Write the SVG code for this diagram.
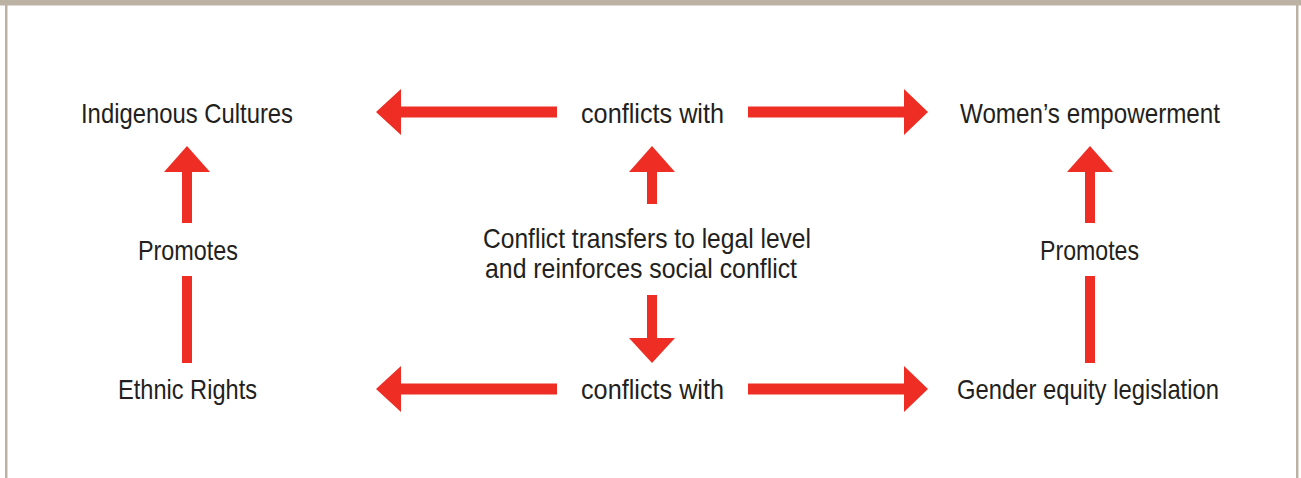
<svg xmlns="http://www.w3.org/2000/svg" width="1301" height="478" viewBox="0 0 1301 478">
<style>
.lbl{font-family:"Liberation Sans",Arial,sans-serif;font-size:28px;fill:#231F20;}
.arr{fill:#EE2E24;}
.frame{fill:#BCB2A4;}
</style>
<rect x="0" y="0" width="1301" height="478" fill="#FFFFFF"/>
<g id="frame">
<rect class="frame" x="0" y="0" width="1301" height="5.5"/>
<rect class="frame" x="5" y="0" width="2.5" height="478"/>
<rect class="frame" x="1296" y="0" width="2.5" height="478"/>
</g>
<g id="connectors">
<polygon class="arr" points="376,112 401,89 401,106.5 557,106.5 557,117.5 401,117.5 401,135"/>
<polygon class="arr" points="928,112 904,89 904,106.5 748,106.5 748,117.5 904,117.5 904,135"/>
<polygon class="arr" points="376,389 401,366 401,383.5 557,383.5 557,394.5 401,394.5 401,412"/>
<polygon class="arr" points="928,389 904,366 904,383.5 748,383.5 748,394.5 904,394.5 904,412"/>
<polygon class="arr" points="187,146 210,172 192,172 192,223 182,223 182,172 164,172"/>
<rect class="arr" x="182" y="276" width="10" height="87"/>
<polygon class="arr" points="1090,146 1113,172 1095,172 1095,223 1085,223 1085,172 1067,172"/>
<rect class="arr" x="1085" y="276" width="10" height="87"/>
<polygon class="arr" points="652,146 675,172 657,172 657,204 647,204 647,172 629,172"/>
<polygon class="arr" points="652,363 675,338 657,338 657,295 647,295 647,338 629,338"/>
</g>
<g id="indigenous-cultures"><text class="lbl" x="81" y="123" textLength="212" lengthAdjust="spacingAndGlyphs">Indigenous Cultures</text></g>
<g id="conflicts-top"><text class="lbl" x="581" y="123" textLength="143" lengthAdjust="spacingAndGlyphs">conflicts with</text></g>
<g id="womens-empowerment"><text class="lbl" x="960" y="123" textLength="260" lengthAdjust="spacingAndGlyphs">Women’s empowerment</text></g>
<g id="promotes-left"><text class="lbl" x="138" y="260" textLength="100" lengthAdjust="spacingAndGlyphs">Promotes</text></g>
<g id="promotes-right"><text class="lbl" x="1040" y="260" textLength="99" lengthAdjust="spacingAndGlyphs">Promotes</text></g>
<g id="conflict-transfers">
<text class="lbl" x="483" y="248" textLength="328" lengthAdjust="spacingAndGlyphs">Conflict transfers to legal level</text>
<text class="lbl" x="485" y="278" textLength="312" lengthAdjust="spacingAndGlyphs">and reinforces social conflict</text>
</g>
<g id="ethnic-rights"><text class="lbl" x="118" y="399" textLength="139" lengthAdjust="spacingAndGlyphs">Ethnic Rights</text></g>
<g id="conflicts-bottom"><text class="lbl" x="581" y="399" textLength="143" lengthAdjust="spacingAndGlyphs">conflicts with</text></g>
<g id="gender-equity"><text class="lbl" x="957" y="399" textLength="262" lengthAdjust="spacingAndGlyphs">Gender equity legislation</text></g>
</svg>
